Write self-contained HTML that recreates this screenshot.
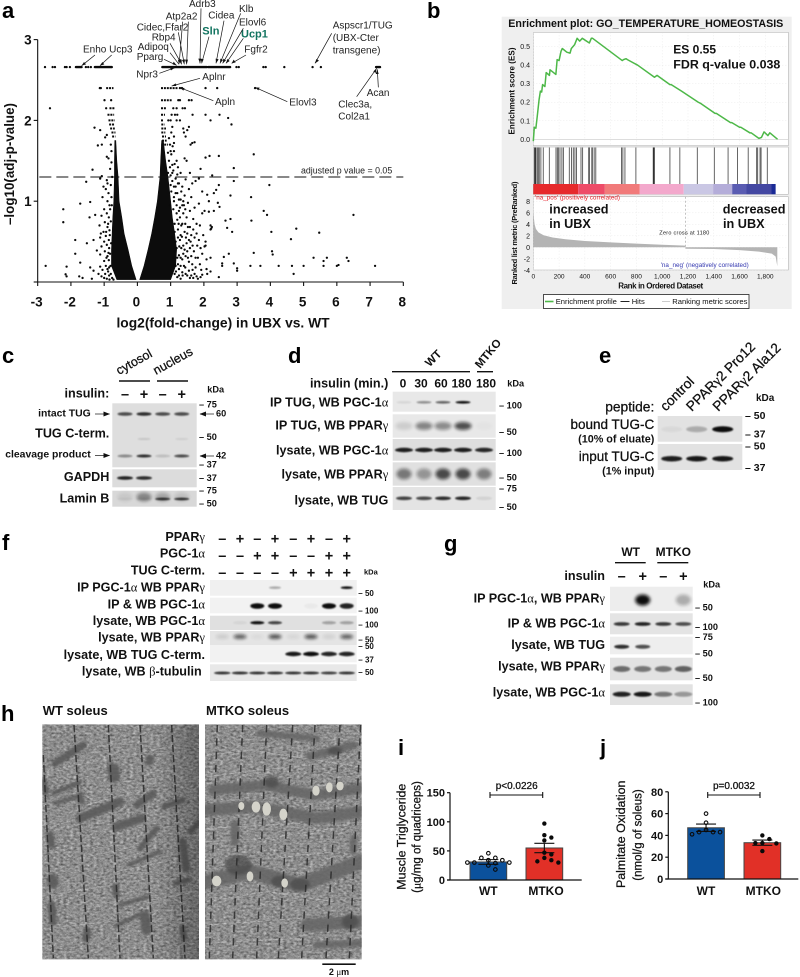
<!DOCTYPE html>
<html lang="en">
<head>
<meta charset="utf-8">
<title>Multi-panel figure: TUG cleavage, PPARgamma and PGC-1alpha</title>
<style>
html,body{margin:0;padding:0;background:#fff;}
svg{display:block;font-family:"Liberation Sans",Arial,sans-serif;fill:#111;filter:blur(.35px);}
.b{font-weight:bold;}
.m{font-weight:normal;stroke:#111;stroke-width:.28;}
.r{text-anchor:end;}
.c{text-anchor:middle;}
.let{font-size:22px;font-weight:bold;fill:#000;}
.gene{font-size:10px;fill:#222;}
.l11{font-size:12.6px;font-weight:bold;}
.t12{font-size:12px;font-weight:bold;}
.l9{font-size:10.4px;font-weight:bold;}
.k{font-size:9.2px;font-weight:bold;}
.g{font-family:"Liberation Serif",serif;font-weight:normal;}
.ann{stroke:#111;stroke-width:.7;fill:none;marker-end:url(#arrow-head);}
.sym{font-size:14.5px;font-weight:bold;text-anchor:middle;}
.rule{stroke:#111;stroke-width:1.4;}
</style>
</head>
<body>
<svg xmlns="http://www.w3.org/2000/svg" width="800" height="977" viewBox="0 0 800 977">
<defs>
<marker id="arrow-head" markerWidth="7" markerHeight="6" refX="6" refY="2.5" orient="auto" markerUnits="userSpaceOnUse"><path d="M0,0 L6.5,2.5 L0,5 Z" fill="#111"/></marker>
<filter id="soft" x="-30%" y="-80%" width="160%" height="260%"><feGaussianBlur stdDeviation=".7"/></filter>
<filter id="soft2" x="-30%" y="-80%" width="160%" height="260%"><feGaussianBlur stdDeviation="1.5"/></filter>
<filter id="em-noise" x="0" y="0" width="100%" height="100%" color-interpolation-filters="sRGB">
<feTurbulence type="fractalNoise" baseFrequency=".1 .16" numOctaves="4" seed="7"/>
<feColorMatrix type="matrix" values=".38 .38 0 0 .17  .38 .38 0 0 .17  .38 .38 0 0 .17  0 0 0 0 1"/>
</filter>
<filter id="em-blur" x="-10%" y="-10%" width="120%" height="120%"><feGaussianBlur stdDeviation="4"/></filter>
<linearGradient id="wt-shade" x1="0" x2="1" y1="0" y2="0"><stop offset=".72" stop-color="#000" stop-opacity="0"/><stop offset="1" stop-color="#000" stop-opacity=".28"/></linearGradient>
<clipPath id="clip-wt"><rect x="127" y="88" width="470" height="705"/></clipPath>
<clipPath id="clip-ko"><rect x="615" y="88" width="470" height="705"/></clipPath>
</defs>

<!-- panel letters -->
<text class="let" x="2" y="18">a</text>
<text class="let" x="427" y="18">b</text>
<text class="let" x="2" y="363">c</text>
<text class="let" x="288" y="363">d</text>
<text class="let" x="599" y="363">e</text>
<text class="let" x="2" y="550">f</text>
<text class="let" x="444" y="551">g</text>
<text class="let" x="1" y="721">h</text>
<text class="let" x="398" y="755">i</text>
<text class="let" x="600" y="755">j</text>

<!-- PANEL A -->
<g id="volcano"></g>
<g>
<text class="gene" x="189" y="7">Adrb3</text>
<text class="gene" x="239" y="12">Klb</text>
<text class="gene" x="165.7" y="19.5">Atp2a2</text>
<text class="gene" x="208.3" y="18.5">Cidea</text>
<text class="gene" x="239" y="25.7">Elovl6</text>
<text class="gene" x="136.7" y="30.7">Cidec,Ffar2</text>
<text x="202.3" y="34.3" font-size="11" font-weight="bold" style="fill:#11735f">Sln</text>
<text x="241" y="37.7" font-size="11" font-weight="bold" style="fill:#11735f">Ucp1</text>
<text class="gene" x="151.7" y="40.7">Rbp4</text>
<text class="gene" x="137.7" y="50">Adipoq</text>
<text class="gene" x="136.7" y="60">Pparg</text>
<text class="gene" x="83" y="52.3">Enho Ucp3</text>
<text class="gene" x="244.3" y="52.3">Fgfr2</text>
<text class="gene" x="332.7" y="28.3">Aspscr1/TUG</text>
<text class="gene" x="332.7" y="41">(UBX-Cter</text>
<text class="gene" x="332.7" y="53.3">transgene)</text>
<text class="gene" x="136.3" y="77.3">Npr3</text>
<text class="gene" x="202.3" y="80">Aplnr</text>
<text class="gene" x="215" y="105">Apln</text>
<text class="gene" x="289.3" y="105.7">Elovl3</text>
<text class="gene" x="366.7" y="96">Acan</text>
<text class="gene" x="338.3" y="107.3">Clec3a,</text>
<text class="gene" x="338.3" y="119.3">Col2a1</text>
<text x="301" y="173.3" font-size="8.8" style="fill:#222">adjusted p value = 0.05</text>
</g>
<g transform="scale(.33333)">
<g style="stroke:#111;stroke-width:2.1;fill:none">
<path d="M285,165L245,197M335,165L300,197M510,158L537,193M492,178L530,196M510,130L545,193M535,97L553,193M548,65L538,185M565,65L560,193M603,25L600,190M627,110L605,190M672,62L648,190M722,40L660,190M730,85L668,190M730,115L678,190M738,165L695,190M995,100L945,190M478,220L525,203M600,235L515,258M640,302L540,263M862,305L765,262M1135,262L1132,208M1070,290L1130,205"/>
</g>
<g style="fill:#111">
<path d="M245,197l7,-11l6,7ZM300,197l7,-11l6,7ZM537,193l-3,-13l9,-3ZM530,196l-12,-3l3,-8ZM545,193l-8,-11l8,-4ZM553,193l-7,-13l9,-2ZM560,193l-5,-14l9,0ZM600,190l-5,-14l9,0ZM605,190l-3,-14l9,2ZM648,190l-1,-14l9,2ZM660,190l1,-14l8,4ZM668,190l2,-14l8,5ZM678,190l4,-13l7,6ZM695,190l6,-11l6,8ZM945,190l4,-13l8,5ZM525,203l-12,8l-3,-8ZM515,258l12,-8l2,8ZM540,263l14,1l-4,8ZM765,262l14,1l-4,8ZM1132,208l4,14l-9,0ZM1130,205l-3,14l-7,-5Z"/>
</g>
</g>

<!-- PANEL B -->
<rect x="501.7" y="16.7" width="290" height="292.3" fill="#efefef"/>
<text x="508.3" y="26.8" font-size="10.8" font-weight="bold" textLength="275" lengthAdjust="spacingAndGlyphs">Enrichment plot: GO_TEMPERATURE_HOMEOSTASIS</text>
<g id="gsea"></g>
<g>
<text x="673.3" y="53.3" font-size="12" font-weight="bold">ES 0.55</text>
<text x="673.3" y="68.3" font-size="12" font-weight="bold" textLength="107" lengthAdjust="spacingAndGlyphs">FDR q-value 0.038</text>
<text x="535" y="199.3" font-size="6.3" style="fill:#e4222a" textLength="85">'na_pos' (positively correlated)</text>
<text x="660.7" y="267" font-size="6.3" style="fill:#3438b0" textLength="88">'na_neg' (negatively correlated)</text>
<text x="659.3" y="234.5" font-size="5.5" textLength="50">Zero cross at 1180</text>
<text x="549.3" y="213.3" font-size="12.7" font-weight="bold">increased</text>
<text x="549.3" y="228" font-size="12.7" font-weight="bold">in UBX</text>
<text x="722.7" y="213.3" font-size="12.7" font-weight="bold">decreased</text>
<text x="723" y="228" font-size="12.7" font-weight="bold">in UBX</text>
<text transform="translate(514.5,91) rotate(-90)" class="c" font-size="8" font-weight="bold" textLength="87">Enrichment score (ES)</text>
<text transform="translate(517,233) rotate(-90)" class="c" font-size="7.5" font-weight="bold" textLength="103">Ranked list metric (PreRanked)</text>
<text x="660.7" y="288.5" class="c" font-size="8" font-weight="bold" textLength="85">Rank in Ordered Dataset</text>
</g>
<g>
<rect x="543.5" y="294.5" width="205.5" height="14" fill="#fff" stroke="#222" stroke-width=".8"/>
<line x1="545" y1="301.5" x2="553.5" y2="301.5" stroke="#4db848" stroke-width="1.6"/>
<text x="555.7" y="304.2" font-size="7.6">Enrichment profile</text>
<line x1="620.5" y1="301.5" x2="629.5" y2="301.5" stroke="#222" stroke-width="1"/>
<text x="631.7" y="304.2" font-size="7.6">Hits</text>
<line x1="662" y1="301.5" x2="670" y2="301.5" stroke="#ccc" stroke-width="1"/>
<text x="672.3" y="304.2" font-size="7.6">Ranking metric scores</text>
</g>

<!-- PANEL C -->
<g>
<text transform="translate(119,375) rotate(-29)" class="m" font-size="12.5">cytosol</text>
<text transform="translate(156,375) rotate(-29)" class="m" font-size="12.5">nucleus</text>
<line class="rule" x1="119" x2="150" y1="381" y2="381"/>
<line class="rule" x1="157" x2="188" y1="381" y2="381"/>
<text class="l11 r" x="109.3" y="397.7">insulin:</text>
<text class="k" x="207.3" y="392.3">kDa</text>
<text class="sym" x="125" y="399">–</text>
<text class="sym" x="144" y="399">+</text>
<text class="sym" x="162.7" y="399">–</text>
<text class="sym" x="181.7" y="399">+</text>
<text class="l9 r" x="90.7" y="416.7">intact TUG</text>
<text class="l11 r" x="109.3" y="437.7">TUG C-term.</text>
<text class="l9 r" x="90.7" y="457.3">cleavage product</text>
<text class="l11 r" x="109.3" y="481">GAPDH</text>
<text class="l11 r" x="109.3" y="502.7">Lamin B</text>
<line class="ann" x1="95" x2="109.5" y1="414" y2="414"/>
<line class="ann" x1="95" x2="109.5" y1="455.5" y2="455.5"/>
<line class="ann" x1="214" x2="200" y1="414" y2="414"/>
<line class="ann" x1="214" x2="200" y1="456" y2="456"/>
<text class="k" x="199" y="407.3">– 75</text>
<text class="k" x="216" y="416.7">60</text>
<text class="k" x="199" y="440">– 50</text>
<text class="k" x="216" y="458.5">42</text>
<text class="k" x="199" y="467.3">– 37</text>
<text class="k" x="199" y="481">– 37</text>
<text class="k" x="199" y="493.3">– 75</text>
<text class="k" x="199" y="506.7">– 50</text>
</g>

<!-- PANEL D -->
<g>
<line class="rule" x1="392" x2="470" y1="371.7" y2="371.7"/>
<line class="rule" x1="477" x2="493" y1="371.7" y2="371.7"/>
<text transform="translate(436,361) rotate(-45)" class="c" font-size="11.5" font-weight="bold">WT</text>
<text transform="translate(491,356) rotate(-50)" class="c" font-size="11.5" font-weight="bold">MTKO</text>
<text class="l11 r" x="388.3" y="387.3">insulin (min.)</text>
<text class="t12 c" x="403" y="387.3">0</text>
<text class="t12 c" x="421" y="387.3">30</text>
<text class="t12 c" x="441" y="387.3">60</text>
<text class="t12 c" x="461.5" y="387.3">180</text>
<text class="t12 c" x="486" y="387.3">180</text>
<text class="k" x="507.3" y="386.7">kDa</text>
<text class="l11 r" x="388.3" y="406.7">IP TUG, WB PGC-1<tspan class="g">α</tspan></text>
<text class="l11 r" x="388.3" y="429.3">IP TUG, WB PPAR<tspan class="g">γ</tspan></text>
<text class="l11 r" x="388.3" y="454.3">lysate, WB PGC-1<tspan class="g">α</tspan></text>
<text class="l11 r" x="388.3" y="478.3">lysate, WB PPAR<tspan class="g">γ</tspan></text>
<text class="l11 r" x="388.3" y="504.3">lysate, WB TUG</text>
<text class="k" x="499" y="408.3">– 100</text>
<text class="k" x="499" y="435">– 50</text>
<text class="k" x="499" y="456">– 100</text>
<text class="k" x="499" y="480.7">– 50</text>
<text class="k" x="499" y="491.7">– 75</text>
<text class="k" x="499" y="510">– 50</text>
</g>

<!-- PANEL E -->
<g>
<text transform="translate(665.7,411.7) rotate(-45)" class="m" font-size="13.8">control</text>
<text transform="translate(691.7,412) rotate(-45)" class="m" font-size="13.8">PPAR<tspan class="g">γ</tspan>2 Pro12</text>
<text transform="translate(718.3,412) rotate(-45)" class="m" font-size="13.8">PPAR<tspan class="g">γ</tspan>2 Ala12</text>
<text class="m r" x="654.3" y="411.7" font-size="13.8">peptide:</text>
<text class="m r" x="654.3" y="429" font-size="13.5">bound TUG-C</text>
<text class="r" x="654.3" y="442.3" font-size="10.8" font-weight="bold">(10% of eluate)</text>
<text class="m r" x="654.3" y="461" font-size="13.5">input TUG-C</text>
<text class="r" x="654.3" y="474.3" font-size="10.8" font-weight="bold">(1% input)</text>
<text x="756" y="401" font-size="10" font-weight="bold">kDa</text>
<text x="745" y="419" font-size="10.5" font-weight="bold">– 50</text>
<text x="745" y="437.7" font-size="10.5" font-weight="bold">– 37</text>
<text x="745" y="449.3" font-size="10.5" font-weight="bold">– 50</text>
<text x="745" y="471" font-size="10.5" font-weight="bold">– 37</text>
</g>

<!-- PANEL F -->
<g>
<text class="l11 r" x="205" y="541">PPAR<tspan class="g">γ</tspan></text>
<text class="l11 r" x="205" y="557.3">PGC-1<tspan class="g">α</tspan></text>
<text class="l11 r" x="205" y="574.3">TUG C-term.</text>
<text class="l11 r" x="205" y="591.7">IP PGC-1<tspan class="g">α</tspan> WB PPAR<tspan class="g">γ</tspan></text>
<text class="l11 r" x="205" y="608.3">IP &amp; WB PGC-1<tspan class="g">α</tspan></text>
<text class="l11 r" x="205" y="625">lysate, WB PGC-1<tspan class="g">α</tspan></text>
<text class="l11 r" x="205" y="641.7">lysate, WB PPAR<tspan class="g">γ</tspan></text>
<text class="l11 r" x="205" y="659">lysate, WB TUG C-term.</text>
<text class="l11 r" x="201.7" y="675.7">lysate, WB <tspan class="g">β</tspan>-tubulin</text>
<text x="364" y="574.3" font-size="7.5" font-weight="bold">kDa</text>
<text x="358.3" y="596" font-size="8" font-weight="bold">– 50</text>
<text x="358.3" y="613.3" font-size="8" font-weight="bold">– 100</text>
<text x="358.3" y="627.7" font-size="8" font-weight="bold">– 100</text>
<text x="358.3" y="642.7" font-size="8" font-weight="bold">– 50</text>
<text x="358.3" y="649" font-size="8" font-weight="bold">– 50</text>
<text x="358.3" y="662.3" font-size="8" font-weight="bold">– 37</text>
<text x="358.3" y="675" font-size="8" font-weight="bold">– 50</text>
<g id="f-signs">
<text class="sym" x="222.3" y="543.5">–</text><text class="sym" x="240" y="543.5">+</text><text class="sym" x="257.3" y="543.5">–</text><text class="sym" x="275" y="543.5">+</text><text class="sym" x="293.3" y="543.5">–</text><text class="sym" x="311" y="543.5">+</text><text class="sym" x="329" y="543.5">–</text><text class="sym" x="346.7" y="543.5">+</text>
<text class="sym" x="222.3" y="560.5">–</text><text class="sym" x="240" y="560.5">–</text><text class="sym" x="257.3" y="560.5">+</text><text class="sym" x="275" y="560.5">+</text><text class="sym" x="293.3" y="560.5">–</text><text class="sym" x="311" y="560.5">–</text><text class="sym" x="329" y="560.5">+</text><text class="sym" x="346.7" y="560.5">+</text>
<text class="sym" x="222.3" y="577.5">–</text><text class="sym" x="240" y="577.5">–</text><text class="sym" x="257.3" y="577.5">–</text><text class="sym" x="275" y="577.5">–</text><text class="sym" x="293.3" y="577.5">+</text><text class="sym" x="311" y="577.5">+</text><text class="sym" x="329" y="577.5">+</text><text class="sym" x="346.7" y="577.5">+</text>
</g>
</g>

<!-- PANEL G -->
<g>
<text class="t12 c" x="630.7" y="556">WT</text>
<text class="t12 c" x="673.3" y="556">MTKO</text>
<line class="rule" x1="615" x2="645.7" y1="562.7" y2="562.7"/>
<line class="rule" x1="657.3" x2="688.3" y1="562.7" y2="562.7"/>
<text class="l11 r" x="605" y="580">insulin</text>
<text class="sym" x="621.7" y="581">–</text>
<text class="sym" x="642.7" y="581">+</text>
<text class="sym" x="663.3" y="581">–</text>
<text class="sym" x="683.3" y="581">+</text>
<text class="k" x="703.3" y="587.3">kDa</text>
<text class="l11 r" x="605" y="602.3">IP PGC-1<tspan class="g">α</tspan>, WB PPAR<tspan class="g">γ</tspan></text>
<text class="l11 r" x="605" y="627.7">IP &amp; WB PGC-1<tspan class="g">α</tspan></text>
<text class="l11 r" x="605" y="649">lysate, WB TUG</text>
<text class="l11 r" x="605" y="670.7">lysate, WB PPAR<tspan class="g">γ</tspan></text>
<text class="l11 r" x="605" y="696.7">lysate, WB PGC-1<tspan class="g">α</tspan></text>
<text class="k" x="695" y="610.3">– 50</text>
<text class="k" x="695" y="630">– 100</text>
<text class="k" x="695" y="640">– 75</text>
<text class="k" x="695" y="656.3">– 50</text>
<text class="k" x="695" y="681">– 50</text>
<text class="k" x="695" y="705.3">– 100</text>
</g>

<g id="blots"></g>

<!-- PANEL H -->
<text x="42.7" y="715" font-size="13" font-weight="bold">WT soleus</text>
<text x="206" y="715" font-size="13" font-weight="bold">MTKO soleus</text>
<g transform="translate(0,695) scale(.33333)">
<g clip-path="url(#clip-wt)">
<rect x="127" y="88" width="470" height="705" fill="#8f8f8f" filter="url(#em-noise)"/>
<g fill="none" stroke="#d8d8d8" stroke-width="2" opacity=".45" stroke-dasharray="18 7">
<path d="M130,230L330,190M135,400L240,370M240,490L420,450M150,600L340,570M260,330L420,285M350,530L540,490M140,700L330,680M430,620L590,590M240,640L340,620M430,170L540,150"/>
</g>
<g fill="none" stroke="#5a5a5a" stroke-linecap="round" stroke-linejoin="round" opacity=".9" filter="url(#em-blur)">
<path stroke-width="22" d="M165,205L250,150"/><path stroke-width="14" d="M160,295L240,262"/><path stroke-width="12" d="M165,325L230,305"/><path stroke-width="26" d="M240,370L360,320"/><path stroke-width="26" d="M350,395L425,370"/><path stroke-width="22" d="M410,330L460,295"/><path stroke-width="36" d="M340,222L342,245"/><path stroke-width="16" d="M490,335L550,315"/><path stroke-width="12" d="M385,510L480,470"/><path stroke-width="12" d="M360,630L445,605"/><path stroke-width="12" d="M350,690L440,650"/><path stroke-width="30" d="M435,665L440,705"/><path stroke-width="32" d="M157,552L160,565"/><path stroke-width="16" d="M525,565L565,555"/><path stroke-width="18" d="M420,460L470,400"/><path stroke-width="16" d="M570,410L595,385"/><path stroke-width="24" d="M548,440L558,520"/><path stroke-width="20" d="M548,700L552,730"/><path stroke-width="22" d="M130,260L137,290"/><path stroke-width="22" d="M150,420L155,450"/><path stroke-width="24" d="M155,630L158,680"/><path stroke-width="18" d="M240,300L245,320"/><path stroke-width="24" d="M262,710L258,730"/><path stroke-width="24" d="M450,190L448,200"/><path stroke-width="20" d="M345,575L350,600"/>
</g>
<g fill="none" stroke="#2b2b2b" stroke-width="4.5" stroke-dasharray="22 8" opacity=".85">
<path d="M130,180L160,790"/><path d="M222,90L265,790"/><path d="M325,90L360,790"/><path d="M420,90L460,790"/><path d="M515,90L555,790"/>
</g>
<rect x="127" y="88" width="470" height="705" fill="url(#wt-shade)"/>
</g>
<g clip-path="url(#clip-ko)">
<rect x="615" y="88" width="470" height="705" fill="#8f8f8f" filter="url(#em-noise)"/>
<g fill="none" stroke="#dcdcdc" stroke-width="2.2" opacity=".5" stroke-dasharray="16 6">
<path d="M620,245L780,225L930,210M620,180L760,165M620,440L800,430L1000,400M620,620L800,590L1000,620M620,690L900,670M620,745L900,730M820,490L1000,470M620,400L900,385M780,170L1080,215"/>
</g>
<g fill="none" stroke="#666" stroke-linecap="round" stroke-linejoin="round" opacity=".88" filter="url(#em-blur)">
<path stroke-width="20" d="M780,115L950,130"/><path stroke-width="24" d="M930,185L1060,150"/><path stroke-width="32" d="M640,285L800,270L940,300L1085,280"/><path stroke-width="36" d="M620,345L760,335L950,370L1085,350"/><path stroke-width="44" d="M620,560L750,530L900,570L1085,500"/><path stroke-width="38" d="M920,690L1085,680"/><path stroke-width="22" d="M950,750L1085,745"/><path stroke-width="26" d="M705,390L705,440"/><path stroke-width="20" d="M1060,430L1060,470"/>
</g>
<g fill="#4a4a4a" opacity=".7" filter="url(#em-blur)"><ellipse cx="1005" cy="168" rx="22" ry="12"/><ellipse cx="815" cy="260" rx="22" ry="18"/><ellipse cx="900" cy="568" rx="30" ry="18"/><ellipse cx="838" cy="560" rx="24" ry="18"/><ellipse cx="715" cy="510" rx="40" ry="30"/><ellipse cx="1050" cy="680" rx="24" ry="22"/></g>
<g fill="none" stroke="#2b2b2b" stroke-width="4.5" stroke-dasharray="22 18" opacity=".85">
<path d="M652,90L628,790"/><path d="M728,90L698,790"/><path d="M800,90L770,790"/><path d="M878,90L835,790"/><path d="M945,90L905,790"/><path d="M1020,90L978,790"/><path d="M1082,90L1048,790"/>
</g>
<g fill="#d4d3ca"><ellipse cx="948" cy="287" rx="11" ry="15"/><ellipse cx="988" cy="277" rx="10" ry="15"/><ellipse cx="1020" cy="273" rx="11" ry="13"/><ellipse cx="724" cy="333" rx="9" ry="12"/><ellipse cx="768" cy="336" rx="13" ry="17"/><ellipse cx="800" cy="342" rx="13" ry="20"/><ellipse cx="850" cy="358" rx="12" ry="17"/><ellipse cx="650" cy="558" rx="14" ry="16"/><ellipse cx="750" cy="544" rx="10" ry="15"/><ellipse cx="854" cy="564" rx="10" ry="14"/></g>
</g>
</g>
<rect x="322.3" y="963.4" width="33.4" height="1.6" fill="#111"/>
<text x="339" y="975" class="c" font-size="9" font-weight="bold">2 <tspan class="g">μ</tspan>m</text>

<!-- PANELS I, J -->
<g id="bar-i"></g>
<g id="bar-j"></g>
<g>
<text transform="translate(405.7,836.7) rotate(-90)" class="m c" font-size="12.4">Muscle Triglyceride</text>
<text transform="translate(420.7,837) rotate(-90)" class="m c" font-size="11.5">(<tspan class="g">μ</tspan>g/mg of quadriceps)</text>
<text x="516.7" y="789" class="m c" font-size="10">p&lt;0.0226</text>
<text x="488.3" y="895" class="c" font-size="12" font-weight="bold">WT</text>
<text x="546" y="895" class="c" font-size="12" font-weight="bold">MTKO</text>
<text transform="translate(625,834.3) rotate(-90)" class="m c" font-size="12.4">Palmitate Oxidation</text>
<text transform="translate(641.7,835) rotate(-90)" class="m c" font-size="11.5">(nmol/g of soleus)</text>
<text x="734" y="789" class="m c" font-size="10">p=0.0032</text>
<text x="706" y="895" class="c" font-size="12" font-weight="bold">WT</text>
<text x="763.3" y="895" class="c" font-size="12" font-weight="bold">MTKO</text>
</g>

<script>
/* ---------- Panel a data: [log2 fold change, -log10 adjusted p] ---------- */
const volcanoXTicks = [-3,-2,-1,0,1,2,3,4,5,6,7,8];
const volcanoYTicks = [0,1,2,3];
const pThreshold = 1.3;
/* envelope of the dense wedge, read at these -log10(p) levels */
const wedgeLevels = [0.03,0.2,0.4,0.6,0.8,1.0,1.3,1.5,1.75];
const leftWedgeInner = [-0.04,-0.17,-0.28,-0.40,-0.47,-0.55,-0.58,-0.62,-0.65];
const leftWedgeOuter = [-0.62,-0.78,-0.78,-0.76,-0.74,-0.71,-0.69,-0.69,-0.68];
const rightWedgeInner = [0.07,0.20,0.32,0.43,0.52,0.60,0.68,0.70,0.73];
const rightWedgeOuter = [1.00,1.15,1.18,1.12,1.05,1.00,0.92,0.85,0.78];
/* saturated p-value plateaus drawn as runs of overlapping points */
const topRunLevel = 2.66;
const topRuns = [[-1.85,-1.68],[-1.28,-0.77],[0.75,2.09],[2.13,2.79],[7.18,7.3]];
const plateauRuns = [[2.40,-0.94,-0.72],[2.40,0.71,1.23],[2.25,0.71,1.03],[2.15,-0.84,-0.67],[2.15,0.71,0.88],[2.07,-0.9,-0.7],[2.07,0.71,0.83],[2.0,-0.87,-0.68],[2.0,0.71,0.79],[1.95,-0.85,-0.68],[1.95,0.72,0.82],[1.9,-0.82,-0.68],[1.9,0.72,0.86],[1.85,-0.78,-0.66],[1.85,0.72,0.84],[1.8,-0.76,-0.66],[1.8,0.74,0.86],[1.75,0.74,0.88],[1.7,0.72,0.92]];
const topSingles = [-2.78,-2.55,-2.48,-2.18,-2.13,-2.03,-1.55,-1.48,-1.4,2.98,3.05,3.79,3.86,4.42,5.27,5.52];
const band240 = [-1.13,-1.1,1.28,1.34,2.05,2.4,3.54];
const band225 = [-0.99,-0.79,1.23,1.28,1.55,1.63];
const band215 = [1.08,1.18,1.36,1.43,-0.94];
const band207 = [1.03,1.13,1.2,1.66];
const band200 = [0.93,1.0,1.18,1.28];
const leftScatter = [[-2.63,2.15],[-1.29,1.91],[-1.12,1.88],[-0.97,1.79],[-0.92,1.82],[-1.19,1.69],[-1.07,1.70],[-0.92,1.55],[-0.87,1.53],[-1.35,1.39],[-1.07,1.31],[-1.12,1.28],[-1.54,1.24],[-0.92,1.26],[-1.02,1.18],[-1.72,0.97],[-1.42,0.99],[-2.23,0.9],[-2.23,0.74],[-1.44,0.8],[-1.27,0.83],[-1.87,0.52],[-1.87,0.35],[-1.52,0.48],[-1.32,0.52],[-1.12,0.55],[-2.76,0.2],[-2.13,0.19],[-2.16,0.095],[-2.13,0.07],[-1.72,0.24],[-1.75,0.07],[-1.65,0.05],[-1.42,0.18],[-1.32,0.14],[-1.12,0.19],[-1.37,0.04],[-1.17,0.1],[-1.22,0.39],[-0.95,1.15],[-0.87,1.1],[-1.05,1.05],[-0.9,1.0],[-0.84,0.95],[-1.0,0.9],[-0.92,0.85],[-1.08,0.82],[-0.86,0.8],[-0.98,0.74],[-1.14,0.7],[-0.9,0.68],[-0.84,0.64],[-1.02,0.62],[-1.1,0.6],[-0.95,0.57],[-0.86,0.52],[-1.0,0.5],[-0.92,0.46],[-1.08,0.44],[-0.85,0.42],[-0.98,0.38],[-1.12,0.34],[-0.9,0.32],[-0.86,0.27],[-1.0,0.26],[-0.95,0.2],[-1.05,0.15],[-0.88,0.13],[-0.97,0.1],[-1.08,0.07],[-0.85,0.08],[-0.92,0.04],[-1.0,0.05],[-0.82,1.4],[-0.78,1.62],[-0.8,1.7],[-0.8,1.2],[-0.82,0.9],[-0.8,0.75],[-0.83,0.58],[-0.82,0.35],[-0.81,0.2],[-0.8,0.1],[-0.78,1.05],[-0.76,1.3],[-0.88,0.72],[-0.87,0.36],[-0.85,0.18],[-0.94,0.62],[-0.93,0.3],[-0.9,0.16],[-0.77,0.95],[-0.79,0.48],[-0.76,0.05],[-0.72,0.03],[-0.84,0.03],[-0.9,1.22],[-0.78,1.48]];
const rightScatter = [[1.02,1.58],[1.1,1.62],[0.95,1.5],[1.05,1.45],[1.18,1.5],[1.22,1.42],[1.3,1.35],[1.42,1.53],[1.48,1.5],[1.58,1.35],[1.65,1.72],[1.72,1.73],[1.6,1.7],[1.1,1.72],[1.1,1.8],[1.4,1.85],[1.45,1.8],[1.38,1.9],[1.5,1.88],[1.55,1.92],[1.05,1.92],[0.95,1.78],[1.02,1.85],[0.92,1.35],[1.0,1.32],[1.05,1.25],[1.15,1.28],[1.25,1.22],[1.35,1.18],[1.45,1.27],[1.55,1.15],[1.65,1.22],[1.75,1.25],[1.85,1.28],[1.95,1.12],[1.02,1.12],[1.1,1.05],[1.2,1.1],[1.3,1.02],[1.42,1.07],[1.52,0.98],[1.62,1.05],[1.72,0.92],[1.85,0.97],[1.95,0.85],[2.02,0.88],[0.98,0.95],[1.08,0.9],[1.18,0.85],[1.28,0.92],[1.38,0.85],[1.48,0.8],[1.58,0.88],[1.68,0.78],[1.78,0.72],[1.88,0.7],[1.0,0.75],[1.12,0.72],[1.22,0.65],[1.32,0.7],[1.42,0.62],[1.52,0.68],[1.62,0.58],[1.72,0.55],[1.85,0.52],[1.98,0.58],[1.05,0.55],[1.15,0.5],[1.28,0.52],[1.38,0.45],[1.48,0.48],[1.58,0.42],[1.7,0.38],[1.82,0.3],[1.95,0.35],[2.02,0.44],[1.12,0.38],[1.25,0.33],[1.35,0.28],[1.45,0.32],[1.55,0.25],[1.65,0.22],[1.75,0.18],[1.88,0.22],[2.08,0.28],[1.15,0.2],[1.25,0.16],[1.35,0.12],[1.45,0.1],[1.55,0.14],[1.62,0.08],[1.68,0.05],[1.72,0.1],[1.78,0.07],[1.82,0.04],[1.9,0.06],[1.95,0.09],[1.2,0.06],[1.3,0.04],[1.12,0.1],[2.05,0.5],[2.08,0.16],[1.12,0.62],[1.2,0.77],[1.3,0.58],[1.1,1.0],[1.15,1.18],[1.2,1.33],[1.25,1.02],[1.08,1.38],[1.35,0.72],[1.4,0.95],[1.5,0.6],[1.55,0.52],[1.18,0.42],[1.08,0.3],[1.4,0.2],[1.5,0.38],[1.22,0.55],[1.24,0.72],[1.26,0.44],[1.2,0.3],[1.22,0.22],[1.3,0.3],[1.32,0.42],[1.34,0.56],[1.28,0.8],[1.35,0.95],[1.18,0.95],[1.25,0.88],[1.1,1.18],[1.15,1.1],[1.22,1.22],[1.32,1.12],[1.38,1.0],[1.44,0.9],[1.44,0.72],[1.46,0.55],[1.42,0.4],[1.52,0.3],[1.58,0.68],[1.6,0.5],[1.62,0.32],[1.66,0.45],[1.68,0.65],[1.66,0.15],[1.3,0.2],[1.38,0.35],[1.36,0.08],[1.25,0.08],[1.16,0.13],[1.44,0.18],[1.5,0.08],[1.58,0.05],[1.75,0.3],[1.8,0.45],[1.78,0.6],[1.9,0.42],[1.92,0.15],[1.0,1.2],[1.05,1.35],[0.98,1.42],[1.12,1.46],[1.0,1.62],[0.92,1.6],[0.98,1.7],[1.06,1.68]];
const farScatter = [[2.47,2.07],[2.73,2.03],[2.83,1.95],[2.2,2.0],[2.05,2.07],[3.5,1.58],[2.45,1.56],[2.17,1.56],[2.05,1.54],[2.9,1.41],[1.9,1.4],[2.25,1.32],[2.9,1.25],[3.97,1.2],[2.45,1.2],[2.37,1.14],[2.3,1.1],[2.1,1.08],[2.15,1.0],[2.8,1.07],[3.42,1.05],[2.42,0.98],[2.47,0.93],[3.8,0.88],[3.9,0.83],[6.5,0.83],[3.43,0.76],[2.65,0.76],[2.8,0.78],[2.2,0.7],[2.22,0.66],[2.2,0.65],[2.24,0.68],[2.7,0.67],[2.85,0.62],[4.03,0.62],[4.78,0.66],[5.47,0.61],[4.62,0.53],[4.05,0.38],[4.07,0.34],[3.5,0.36],[2.75,0.35],[2.6,0.31],[2.2,0.3],[3.4,0.2],[3.7,0.2],[2.9,0.23],[2.55,0.23],[2.55,0.2],[3.0,0.17],[3.0,0.14],[4.25,0.2],[4.65,0.2],[5.0,0.2],[4.7,0.1],[5.3,0.3],[5.6,0.26],[5.7,0.3],[5.6,0.2],[6.0,0.2],[6.05,0.21],[6.3,0.3],[6.35,0.26],[7.15,0.2],[2.45,0.06],[2.1,0.1],[2.2,0.13],[2.05,0.45],[2.3,0.88],[2.15,0.87]];

/* ---------- Panel b data ---------- */
const rankTicks = [0,200,400,600,800,1000,1200,1400,1600,1800];
const rankTickLabels = ['0','200','400','600','800','1,000','1,200','1,400','1,600','1,800'];
const esTicks = [0,0.1,0.2,0.3,0.4,0.5];
const metricTicks = [8,6,4,2,0,-2,-4];
const esRanks = [0,8,20,30,45,55,65,72,90,100,125,130,175,185,200,215,225,260,285,295,320,340,360,380,435,450,460,690,700,720,730,810,940,960,1060,1070,1150,1280,1295,1410,1420,1530,1540,1600,1610,1680,1690,1750,1770,1790,1820,1835,1895];
const esValues = [-0.01,0.065,0.06,0.12,0.215,0.26,0.255,0.295,0.285,0.36,0.345,0.375,0.35,0.43,0.425,0.475,0.49,0.47,0.465,0.49,0.51,0.545,0.53,0.545,0.52,0.545,0.545,0.425,0.43,0.435,0.43,0.40,0.335,0.345,0.295,0.295,0.26,0.20,0.195,0.14,0.14,0.09,0.09,0.065,0.065,0.035,0.035,0.005,0.01,0.04,0.02,0.035,0];
const hitRanks = [8,14,20,30,38,46,59,77,124,176,186,194,207,222,233,279,297,310,323,336,370,383,430,435,454,458,472,485,685,695,711,796,930,935,940,1060,1137,1272,1404,1511,1585,1667,1733,1741,1759,1767,1815];
const metricRanks = [0,5,10,20,40,80,150,250,400,600,800,1000,1178,1180,1400,1600,1750,1850,1880,1893];
const metricValues = [6.5,5,4,3.2,2.6,2.1,1.7,1.4,1.1,0.85,0.65,0.45,0.3,-0.25,-0.3,-0.5,-0.75,-1.1,-1.6,-3.3];
const heatStops = [0,348,555,826,1167,1395,1543,1654,1848,1880];
const heatColors = ['#e62a2c','#ee4c68','#f17a7a','#f3a8cc','#cac7e4','#b4add9','#5a5cb2','#4448a2','#1a2a96'];

/* ---------- Panels i, j data ---------- */
const iTicks = [0,50,100,150];
const iMeans = [31,55];
const iErrors = [4,8];
const iWT = [46,38,38,34,34,30,30,30,25,18,29];
const iMTKO = [97,77,73,68,47,44,38,34,32,30];
const jTicks = [0,20,40,60,80];
const jMeans = [47,33.3];
const jErrors = [3.4,2.4];
const jWT = [60,51.6,45,43,43,43,41];
const jMTKO = [40,36.6,33,33,32.6,25.6];

/* ---------- Blot band intensities (0-1 per lane) ---------- */
const cLanes = [125,144,162.7,181.7];
const cTug = [0.7,0.85,0.7,0.7];
const cFaint = [0,0.12,0,0.08];
const cCleaved = [0.4,0.85,0.15,0.7];
const cGapdh = [0.9,0.85,0,0];
const cLamin = [0.05,0.12,0.85,0.85];
const cLaminSmudge = [0.08,0.4,0.25,0.12];
const dLanes = [404,424,443,463,484];
const dIpPgc = [0.08,0.4,0.6,1,0];
const dIpPpar = [0.12,0.45,0.42,0.7,0.02];
const dLysPgc = [0.92,0.92,0.92,0.92,0.88];
const dLysPpar = [0.45,0.32,0.65,0.65,0.42];
const dLysTug = [0.75,0.72,0.85,0.88,0.08];
const eLanes = [671.7,696.7,722.7];
const eBound = [0.04,0.25,1];
const eInput = [0.92,0.95,0.95];
const fLanes = [222.3,240,257.3,275,293.3,311,329,346.7];
const fIp = [0,0,0,0.3,0,0,0,1];
const fIpWb = [0,0,1,1,0,0.03,1,0.9];
const fLysPgc = [0,0.05,1,0.75,0,0,0.3,0.3];
const fLysPpar = [0.1,0.55,0.04,0.6,0.06,0.6,0.08,0.55];
const fLysTug = [0,0,0,0,0.95,1,0.9,0.9];
const fTub = [0.85,0.85,0.85,0.85,0.85,0.85,0.8,0.85];
const gLanes = [621.7,642.7,663.3,683.3];
const gIp = [0,1,0,0.22];
const gIpWb = [0.8,0.9,0.8,0.7];
const gTug = [0.85,0.7,0,0];
const gPpar = [0.55,0.5,0.5,0.6];
const gPgc = [0.9,0.95,0.5,0.35];

const NS = 'http://www.w3.org/2000/svg';
function add(parent, tag, attrs, name, text) {
  const el = document.createElementNS(NS, tag);
  for (const k in attrs) el.setAttribute(k, attrs[k]);
  
  
  if (text !== undefined) el.textContent = text;
  parent.appendChild(el);
  return el;
}
const byId = id => document.getElementById(id);

/* ---------- Panel a ---------- */
(function () {
  const g = byId('volcano');
  const sx = v => 137.4 + v * 33.24;
  const sy = v => 282 - v * 80.8;
  const dot = (x, y, name) => add(g, 'circle', {cx: sx(x), cy: sy(y), r: 1.15, fill: '#0a0a0a'}, name);

  let left = wedgeLevels.map((l, i) => sx(leftWedgeOuter[i]) + ',' + sy(l));
  left = left.concat(wedgeLevels.map((l, i) => sx(leftWedgeInner[i]) + ',' + sy(l)).reverse());
  add(g, 'polygon', {points: left.join(' '), fill: '#0c0c0c', stroke: '#0c0c0c', 'stroke-width': .6}, 'left-dense-wedge');
  let right = wedgeLevels.map((l, i) => sx(rightWedgeOuter[i]) + ',' + sy(l));
  right = right.concat(wedgeLevels.map((l, i) => sx(rightWedgeInner[i]) + ',' + sy(l)).reverse());
  add(g, 'polygon', {points: right.join(' '), fill: '#0c0c0c', stroke: '#0c0c0c', 'stroke-width': .6}, 'right-dense-wedge');

  leftScatter.forEach(p => dot(p[0], p[1], 'left-gene-point'));
  rightScatter.forEach(p => dot(p[0], p[1], 'right-gene-point'));
  farScatter.forEach(p => dot(p[0], p[1], 'far-gene-point'));
  topRuns.forEach(r => add(g, 'line', {x1: sx(r[0]), x2: sx(r[1]), y1: sy(topRunLevel), y2: sy(topRunLevel), stroke: '#0a0a0a', 'stroke-width': 2.3, 'stroke-linecap': 'round'}, 'top-plateau-run'));
  plateauRuns.forEach(r => add(g, 'line', {x1: sx(r[1]), x2: sx(r[2]), y1: sy(r[0]), y2: sy(r[0]), stroke: '#0a0a0a', 'stroke-width': 2, 'stroke-dasharray': '2 .9'}, 'plateau-run'));
  topSingles.forEach(x => dot(x, topRunLevel, 'top-plateau-point'));
  band240.forEach(x => dot(x, 2.40, 'plateau-point'));
  band225.forEach(x => dot(x, 2.25, 'plateau-point'));
  band215.forEach(x => dot(x, 2.15, 'plateau-point'));
  band207.forEach(x => dot(x, 2.07, 'plateau-point'));
  band200.forEach(x => dot(x, 2.0, 'plateau-point'));

  add(g, 'line', {x1: sx(-2.95), x2: sx(8), y1: sy(pThreshold), y2: sy(pThreshold), stroke: '#111', 'stroke-width': 1, 'stroke-dasharray': '12 5'}, 'significance-threshold-line');
  add(g, 'line', {x1: sx(-3), x2: sx(-3), y1: sy(3), y2: sy(0), stroke: '#111', 'stroke-width': 1.1}, 'y-axis-line');
  add(g, 'line', {x1: sx(-3), x2: sx(8), y1: sy(0), y2: sy(0), stroke: '#111', 'stroke-width': 1.1}, 'x-axis-line');
  volcanoYTicks.forEach(t => {
    add(g, 'line', {x1: sx(-3) - 4, x2: sx(-3), y1: sy(t), y2: sy(t), stroke: '#111', 'stroke-width': 1.1}, 'y-tick');
    if (t > 0) add(g, 'text', {x: sx(-3) - 6, y: sy(t) + 5, 'text-anchor': 'end', 'font-size': 13.5, 'font-weight': 'bold'}, 'y-tick-label', String(t));
  });
  volcanoXTicks.forEach(t => {
    add(g, 'line', {x1: sx(t), x2: sx(t), y1: sy(0), y2: sy(0) + 4, stroke: '#111', 'stroke-width': 1.1}, 'x-tick');
    add(g, 'text', {x: sx(t) - 1, y: 306.7, 'text-anchor': 'middle', 'font-size': 13.5, 'font-weight': 'bold'}, 'x-tick-label', String(t));
  });
  add(g, 'text', {transform: 'translate(14,164) rotate(-90)', 'text-anchor': 'middle', 'font-size': 13.4, 'font-weight': 'bold'}, 'y-axis-title', '–log10(adj-p-value)');
  add(g, 'text', {x: 223, y: 327.5, 'text-anchor': 'middle', 'font-size': 13.8, 'font-weight': 'bold'}, 'x-axis-title', 'log2(fold-change) in UBX vs. WT');
})();

/* ---------- Panel b ---------- */
(function () {
  const g = byId('gsea');
  const sx = r => 533.3 + r * 0.1289;
  const syEs = v => 139.3 - v * 185.3;
  const syM = v => 247.3 - v * 5.75;
  const L = 533.3, R = 788.3;
  add(g, 'rect', {x: L, y: 32.3, width: R - L, height: 113.4, fill: '#fff', stroke: '#aaa', 'stroke-width': .5}, 'es-plot-area');
  add(g, 'rect', {x: L, y: 147, width: R - L, height: 47.3, fill: '#fff', stroke: '#aaa', 'stroke-width': .5}, 'hits-plot-area');
  add(g, 'rect', {x: L, y: 196.7, width: R - L, height: 73.3, fill: '#fff', stroke: '#aaa', 'stroke-width': .5}, 'metric-plot-area');
  rankTicks.forEach((t, i) => {
    add(g, 'line', {x1: sx(t), x2: sx(t), y1: 32.3, y2: 145.7, stroke: '#e2e2e2', 'stroke-width': .5, 'stroke-dasharray': '1 2'}, 'es-vertical-gridline');
    add(g, 'line', {x1: sx(t), x2: sx(t), y1: 196.7, y2: 270, stroke: '#e2e2e2', 'stroke-width': .5, 'stroke-dasharray': '1 2'}, 'metric-vertical-gridline');
    add(g, 'text', {x: sx(t), y: 278.3, 'text-anchor': 'middle', 'font-size': 6.6}, 'rank-tick-label', rankTickLabels[i]);
  });
  esTicks.forEach(t => {
    add(g, 'line', {x1: L, x2: R, y1: syEs(t), y2: syEs(t), stroke: t === 0 ? '#bbb' : '#e2e2e2', 'stroke-width': .5, 'stroke-dasharray': t === 0 ? 'none' : '1 2'}, 'es-horizontal-gridline');
    add(g, 'text', {x: 530, y: syEs(t) + 2.5, 'text-anchor': 'end', 'font-size': 7}, 'es-tick-label', t.toFixed(1));
  });
  metricTicks.forEach(t => {
    add(g, 'line', {x1: L, x2: R, y1: syM(t), y2: syM(t), stroke: '#e2e2e2', 'stroke-width': .5, 'stroke-dasharray': '1 2'}, 'metric-horizontal-gridline');
    add(g, 'text', {x: 530, y: syM(t) + 2.5, 'text-anchor': 'end', 'font-size': 7}, 'metric-tick-label', String(t));
  });
  add(g, 'polyline', {points: esRanks.map((r, i) => sx(r) + ',' + syEs(esValues[i])).join(' '), fill: 'none', stroke: '#4db848', 'stroke-width': 1.5, 'stroke-linejoin': 'round'}, 'enrichment-profile-line');
  hitRanks.forEach(r => add(g, 'line', {x1: sx(r), x2: sx(r), y1: 147.5, y2: 184, stroke: '#333', 'stroke-width': .75}, 'hit-line'));
  heatColors.forEach((c, i) => add(g, 'rect', {x: sx(heatStops[i]), y: 184, width: sx(heatStops[i + 1]) - sx(heatStops[i]), height: 10.3, fill: c}, 'ranking-heat-segment'));
  const area = metricRanks.map((r, i) => sx(r) + ',' + syM(metricValues[i]));
  area.unshift(sx(0) + ',' + syM(0));
  area.push(sx(metricRanks[metricRanks.length - 1]) + ',' + syM(0));
  add(g, 'polygon', {points: area.join(' '), fill: '#b4b4b4'}, 'ranking-metric-area');
  add(g, 'line', {x1: sx(1180), x2: sx(1180), y1: 196.7, y2: syM(0), stroke: '#999', 'stroke-width': .6, 'stroke-dasharray': '2 2'}, 'zero-cross-line');
})();

/* ---------- Western blots ---------- */
(function () {
  const host = byId('blots');
  function box(name, x, y, w, h, fill) {
    add(host, 'rect', {x: x, y: y, width: w, height: h, fill: fill}, name);
  }
  function row(name, lanes, values, cy, w, h, soft, extraOp) {
    values.forEach((v, i) => {
      if (v <= 0) return;
      add(host, 'ellipse', {cx: lanes[i], cy: cy, rx: w / 2, ry: h / 2, fill: '#0c0c0c', opacity: Math.min(1, v * (extraOp || 1)), filter: soft ? 'url(#soft2)' : 'url(#soft)'}, name);
    });
  }
  /* c */
  box('blot-c-tug-background', 112.3, 403.3, 84.4, 64, '#dedede');
  row('band-c-intact-tug', cLanes, cTug, 414, 15, 3.4);
  row('band-c-faint', cLanes, cFaint, 439, 13, 2);
  row('band-c-cleavage', cLanes, cCleaved, 456, 15, 3);
  box('blot-c-gapdh-background', 112.3, 469.3, 84.4, 18, '#dcdcdc');
  row('band-c-gapdh', cLanes, cGapdh, 478, 16, 3.6);
  box('blot-c-lamin-background', 112.3, 490.7, 84.4, 16, '#d8d8d8');
  row('band-c-lamin-smudge', cLanes, cLaminSmudge, 497, 15, 9, true);
  row('band-c-lamin', cLanes, cLamin, 499, 15, 2.4);
  /* d */
  box('blot-d-ip-pgc-background', 392.7, 391.7, 103, 20, '#e8e8e8');
  row('band-d-ip-pgc', dLanes, dIpPgc, 402.3, 15, 2.6);
  box('blot-d-ip-ppar-background', 392.7, 414.3, 103, 23.4, '#e8e8e8');
  row('band-d-ip-ppar', dLanes, dIpPpar, 426, 17, 8, true);
  box('blot-d-lysate-pgc-background', 392.7, 439, 103, 21.7, '#dedede');
  row('band-d-lysate-pgc', dLanes, dLysPgc, 450, 18, 4.4);
  box('blot-d-lysate-ppar-background', 392.7, 462.3, 103, 23.4, '#e0e0e0');
  row('band-d-lysate-ppar', dLanes, dLysPpar, 474, 15, 11, true, 1.1);
  box('blot-d-lysate-tug-background', 392.7, 487, 103, 23, '#e4e4e4');
  row('band-d-lysate-tug', dLanes, dLysTug, 498.3, 16, 3.6);
  /* e */
  box('blot-e-bound-background', 657.7, 416, 84.6, 25.7, '#e2e2e2');
  row('band-e-bound', eLanes, eBound, 429.3, 21, 6);
  box('blot-e-input-background', 657.7, 444, 84.6, 26, '#e2e2e2');
  row('band-e-input', eLanes, eInput, 458.7, 21, 5.5);
  /* f */
  box('blot-f-ip-background', 210, 580, 146.7, 15.7, '#f0f0f0');
  row('band-f-ip', fLanes, fIp, 587.7, 12, 2.6);
  box('blot-f-ip-wb-background', 210, 597.7, 146.7, 15.6, '#f2f2f2');
  row('band-f-ip-wb', fLanes, fIpWb, 606, 14, 5.5);
  box('blot-f-lysate-pgc-background', 210, 615.7, 146.7, 14.3, '#e0e0e0');
  row('band-f-lysate-pgc', fLanes, fLysPgc, 622.7, 14, 3.2);
  box('blot-f-lysate-ppar-background', 210, 631, 146.7, 14, '#e4e4e4');
  row('band-f-lysate-ppar', fLanes, fLysPpar, 636.7, 13, 4.4, true, 1.2);
  box('blot-f-lysate-tug-background', 210, 645, 146.7, 17.3, '#f2f2f2');
  row('band-f-lysate-tug', fLanes, fLysTug, 654, 16, 4.4);
  box('blot-f-tubulin-background', 210, 664.3, 146.7, 16.7, '#e8e8e8');
  row('band-f-tubulin', fLanes, fTub, 673, 16.5, 2.8);
  /* g */
  box('blot-g-ip-background', 610, 586.7, 82.7, 24.3, '#ededed');
  row('band-g-ip', gLanes, gIp, 600, 15, 11, true, 1.3);
  box('blot-g-ip-wb-background', 610, 613.3, 82.7, 21, '#e4e4e4');
  row('band-g-ip-wb', gLanes, gIpWb, 624, 16, 3.8);
  box('blot-g-tug-background', 610, 636.7, 82.7, 17.6, '#eeeeee');
  row('band-g-tug', gLanes, gTug, 646.7, 15, 4);
  box('blot-g-ppar-background', 610, 657.7, 82.7, 22.6, '#e2e2e2');
  row('band-g-ppar', gLanes, gPpar, 669, 17, 6);
  box('blot-g-pgc-background', 610, 684.3, 82.7, 20.7, '#e2e2e2');
  row('band-g-pgc', gLanes, gPgc, 694.3, 18, 5);
})();

/* ---------- Panels i, j ---------- */
function barChart(id, o) {
  const g = byId(id);
  const sy = v => o.y0 - v * o.k;
  o.means.forEach((m, i) => add(g, 'rect', {x: o.barX[i], y: sy(m), width: o.barW, height: o.y0 - sy(m), fill: o.fills[i], stroke: '#444', 'stroke-width': 1}, i ? 'bar-mtko' : 'bar-wt'));
  const place = (vals, cx, open) => {
    const r = 2.2, placed = [];
    vals.forEach(v => {
      const y = sy(v);
      let x = cx;
      for (const s of [0, 1, -1, 2, -2, 3, -3]) {
        x = cx + s * 7;
        if (!placed.some(p => Math.hypot(p[0] - x, p[1] - y) < 2 * r + .4)) break;
      }
      placed.push([x, y]);
      add(g, 'circle', {cx: x, cy: y, r: r - (open ? .4 : 0), fill: open ? 'none' : '#0a0a0a', stroke: '#0a0a0a', 'stroke-width': open ? 1.1 : 0}, open ? 'point-wt' : 'point-mtko');
    });
  };
  o.means.forEach((m, i) => {
    const cx = o.barX[i] + o.barW / 2;
    const hi = sy(m + o.errs[i]), lo = sy(m - o.errs[i]);
    add(g, 'path', {d: 'M' + cx + ',' + hi + 'V' + lo + 'M' + (cx - 10) + ',' + hi + 'H' + (cx + 10) + 'M' + (cx - 10) + ',' + lo + 'H' + (cx + 10), stroke: '#111', 'stroke-width': 1.1, fill: 'none'}, 'error-bar');
  });
  place(o.wt, o.barX[0] + o.barW / 2, true);
  place(o.mtko, o.barX[1] + o.barW / 2, false);
  add(g, 'line', {x1: o.axisX, x2: o.axisX, y1: sy(o.ticks[o.ticks.length - 1]), y2: o.y0, stroke: '#111', 'stroke-width': 1.2}, 'y-axis-line');
  add(g, 'line', {x1: o.axisX - 3, x2: o.axisEnd, y1: o.y0, y2: o.y0, stroke: '#111', 'stroke-width': 1.2}, 'x-axis-line');
  o.ticks.forEach(t => {
    add(g, 'line', {x1: o.axisX - 3, x2: o.axisX, y1: sy(t), y2: sy(t), stroke: '#111', 'stroke-width': 1.2}, 'y-tick');
    add(g, 'text', {x: o.axisX - 5, y: sy(t) + 4, 'text-anchor': 'end', 'font-size': 11, 'font-weight': 'bold'}, 'y-tick-label', String(t));
  });
  add(g, 'path', {d: 'M' + o.br[0] + ',792V798M' + o.br[0] + ',795H' + o.br[1] + 'M' + o.br[1] + ',792V798', stroke: '#111', 'stroke-width': 1.1, fill: 'none'}, 'significance-bracket');
}
barChart('bar-i', {y0: 880, k: 0.582, means: iMeans, errs: iErrors, wt: iWT, mtko: iMTKO, ticks: iTicks, barX: [470, 526], barW: 36.7, fills: ['#0b519c', '#e13027'], axisX: 450, axisEnd: 581.7, br: [490, 542.7]});
barChart('bar-j', {y0: 879, k: 1.09, means: jMeans, errs: jErrors, wt: jWT, mtko: jMTKO, ticks: jTicks, barX: [687.7, 744], barW: 36.7, fills: ['#0b519c', '#e13027'], axisX: 668.3, axisEnd: 798.3, br: [707.7, 760]});
</script>
</svg>
</body>
</html>
